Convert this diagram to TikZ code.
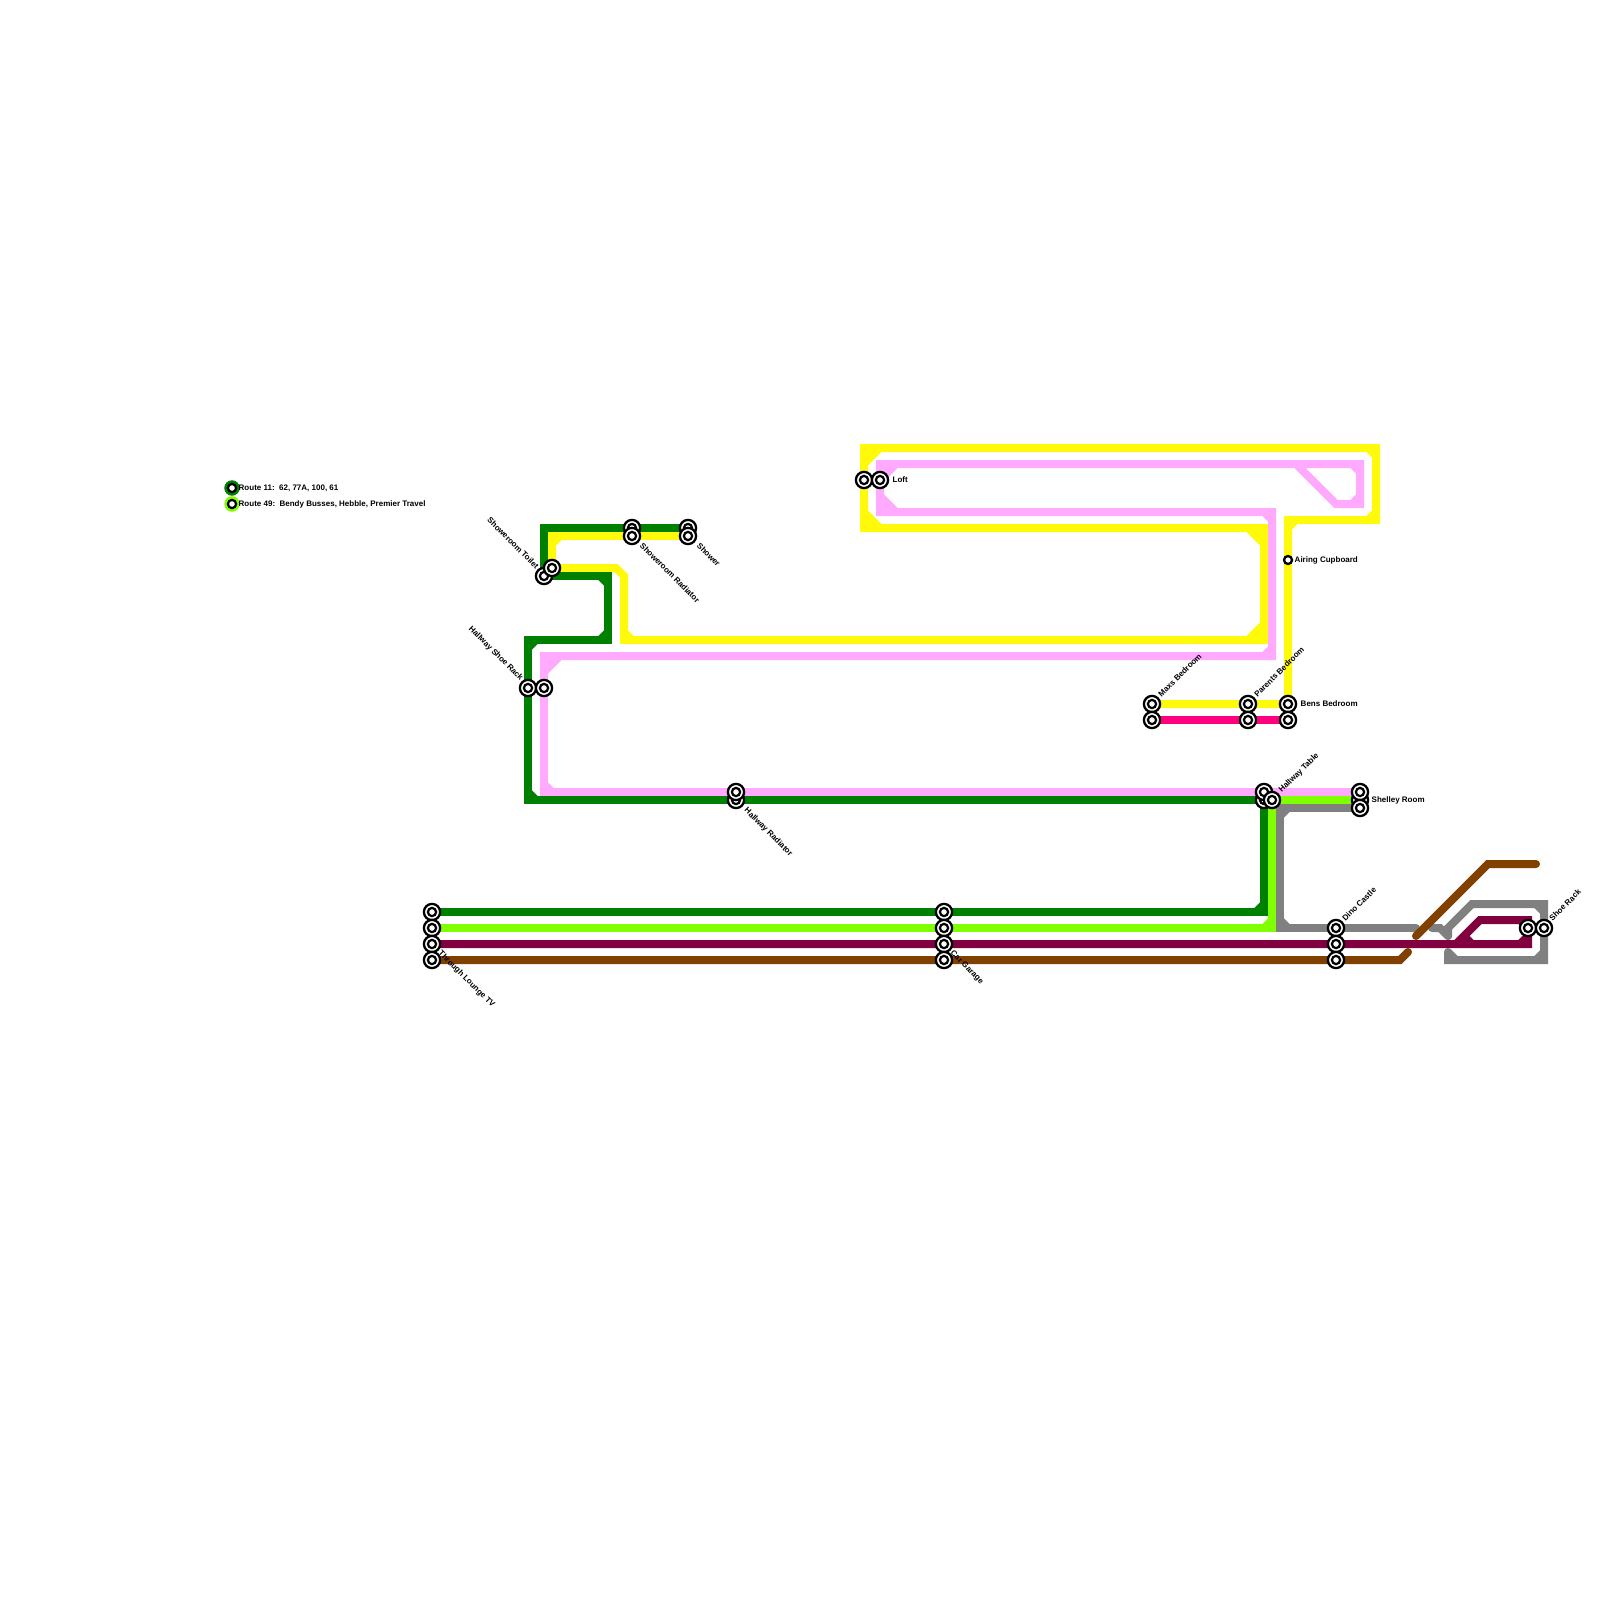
\documentclass[tikz,border=0pt]{standalone}
\usepackage{fontspec}
\setmainfont{Liberation Sans}
\usetikzlibrary{backgrounds}
\definecolor{cGreen}{RGB}{0,128,0}
\definecolor{cLime}{RGB}{128,255,0}
\definecolor{cPink}{RGB}{255,170,255}
\definecolor{cYellow}{RGB}{255,250,10}
\definecolor{cGray}{RGB}{128,128,128}
\definecolor{cHot}{RGB}{255,0,128}
\definecolor{cWine}{RGB}{128,0,64}
\definecolor{cBrown}{RGB}{128,64,0}
\tikzset{
  x=0.01cm,y=-0.01cm,
  inring/.style={path picture={\draw[black,line width=.022cm] (path picture bounding box.center) circle (.041cm);}},
  stn/.style={circle,draw=black,line width=.023cm,fill=white,minimum size=.162cm,inner sep=0pt,inring},
  smallstn/.style={circle,draw=black,line width=.023cm,fill=white,minimum size=.08cm,inner sep=0pt},
  legstn/.style={circle,fill=#1,minimum size=.155cm,inner sep=0pt,path picture={\draw[black,fill=white,line width=.022cm] (path picture bounding box.center) circle (.041cm);}},
  ln/.style={draw=#1,line width=.08cm,line join=miter,line cap=round},
  lbl/.style={font=\fontsize{2.276pt}{2.8pt}\selectfont\bfseries,inner sep=0pt,text=black},
  lblE/.style={lbl,anchor=west},
  lblUp/.style={lbl,anchor=west,rotate=45},
  lblDn/.style={lbl,anchor=west,rotate=-45},
  lblBack/.style={lbl,anchor=east,rotate=-45},
}
\begin{document}
\begin{tikzpicture}
\useasboundingbox (0,0) rectangle (1600,1600);
% legend
\node[legstn=cGreen] (legA) at (232,488) {};
\node[legstn=cLime] (legB) at (232,504) {};
\node[lblE] (legAt) at (238,488) {Route 11:\ \ 62, 77A, 100, 61};
\node[lblE] (legBt) at (238,504) {Route 49:\ \ Bendy Busses, Hebble, Premier Travel};
% stations, back to front
\foreach \n/\x/\y in {tv1/432/912,tv2/432/928,tv3/432/944,tv4/432/960,
  car1/944/912,car2/944/928,car3/944/944,car4/944/960,
  rack/528/688,rackp/544/688,
  toil/544/576,toily/552/568,
  radg/632/528,rady/632/536,showg/688/528,showy/688/536,
  hrg/736/800,hrp/736/792,
  loft/864/480,loftp/880/480,
  maxy/1152/704,maxh/1152/720,pary/1248/704,parh/1248/720,beny/1288/704,benh/1288/720,
  halg/1264/800,halp/1264/792,hall/1272/800,
  shm/1360/800,shp/1360/792,shg/1360/808,
  dino1/1336/928,dino2/1336/944,dino3/1336/960,
  shoew/1528/928,shoeg/1544/928}{
  \node[stn] (\n) at (\x,\y) {};
}
\node[smallstn] (air) at (1288,560) {};
% line drawing under stations
\begin{scope}[on background layer]
\fill[white] (0,0) rectangle (1600,1600);
% yellow
\draw[ln=cYellow] (toily.center) -- (552,536) -- (rady.center) -- (showy.center);
\draw[ln=cYellow,line cap=butt] (552,544) -- (560,536);
\draw[ln=cYellow] (toily.center) -- (616,568) -- (624,576) -- (624,640) -- (1264,640) -- (1264,528) -- (864,528) -- (864,448) -- (1376,448) -- (1376,520) -- (1288,520) -- (air.center) -- (beny.center) -- (pary.center) -- (maxy.center);
\draw[ln=cYellow,line cap=butt] (624,632) -- (632,640);
\fill[cYellow] (1264,640) -- (1248,640) -- (1264,624) -- cycle;
\draw[ln=cYellow,line cap=butt] (1248,640) -- (1264,624);
\fill[cYellow] (1264,528) -- (1248,528) -- (1264,544) -- cycle;
\draw[ln=cYellow,line cap=butt] (1248,528) -- (1264,544);
\fill[cYellow] (864,528) -- (864,512) -- (880,528) -- cycle;
\draw[ln=cYellow,line cap=butt] (864,512) -- (880,528);
\fill[cYellow] (864,448) -- (864,464) -- (880,448) -- cycle;
\draw[ln=cYellow,line cap=butt] (864,464) -- (880,448);
\draw[ln=cYellow,line cap=butt] (1368,448) -- (1376,456);
\draw[ln=cYellow,line cap=butt] (1376,512) -- (1368,520);
\draw[ln=cYellow,line cap=butt] (1288,528) -- (1296,520);
% pink
\draw[ln=cPink] (rackp.center) -- (544,656) -- (1272,656) -- (1272,512) -- (880,512) -- (880,464) -- (1360,464) -- (1360,504) -- (1336,504) -- (1296,464);
\draw[ln=cPink] (rackp.center) -- (544,792) -- (hrp.center) -- (halp.center) -- (shp.center);
\fill[cPink] (544,656) -- (544,672) -- (560,656) -- cycle;
\draw[ln=cPink,line cap=butt] (544,672) -- (560,656);
\draw[ln=cPink,line cap=butt] (1264,656) -- (1272,648);
\draw[ln=cPink,line cap=butt] (1264,512) -- (1272,520);
\fill[cPink] (880,512) -- (880,496) -- (896,512) -- cycle;
\draw[ln=cPink,line cap=butt] (880,496) -- (896,512);
\fill[cPink] (880,464) -- (880,480) -- (896,464) -- cycle;
\draw[ln=cPink,line cap=butt] (880,480) -- (896,464);
\draw[ln=cPink,line cap=butt] (1352,464) -- (1360,472);
\draw[ln=cPink,line cap=butt] (1360,496) -- (1352,504);
\draw[ln=cPink,line cap=butt] (544,784) -- (552,792);
% dark green
\draw[ln=cGreen] (showg.center) -- (radg.center) -- (544,528) -- (toil.center) -- (608,576) -- (608,640) -- (528,640) -- (rack.center) -- (528,800) -- (hrg.center) -- (halg.center) -- (1264,912) -- (car1.center) -- (tv1.center);
\draw[ln=cGreen,line cap=butt] (600,576) -- (608,584);
\draw[ln=cGreen,line cap=butt] (608,632) -- (600,640);
\draw[ln=cGreen,line cap=butt] (528,648) -- (536,640);
\draw[ln=cGreen,line cap=butt] (528,792) -- (536,800);
\draw[ln=cGreen,line cap=butt] (1256,912) -- (1264,904);
% lime
\draw[ln=cLime] (tv2.center) -- (car2.center) -- (1272,928) -- (hall.center) -- (shm.center);
\draw[ln=cLime,line cap=butt] (1264,928) -- (1272,920);
% gray
\draw[ln=cGray] (shg.center) -- (1280,808) -- (1280,928) -- (dino1.center) -- (1416,928);
\draw[ln=cGray,line cap=butt] (1280,816) -- (1288,808);
\draw[ln=cGray,line cap=butt] (1280,920) -- (1288,928);
\draw[ln=cGray] (1432,928) -- (1440,928) -- (1448,936);
\draw[ln=cGray] (1448,936) -- (1448,928) -- (1472,904) -- (1544,904) -- (shoeg.center) -- (1544,960) -- (1448,960) -- (1448,952);
\draw[ln=cGray,line cap=butt] (1536,904) -- (1544,912);
\draw[ln=cGray,line cap=butt] (1544,952) -- (1536,960);
\draw[ln=cGray,line cap=butt] (1448,952) -- (1456,960);
% hot pink
\draw[ln=cHot] (maxh.center) -- (parh.center) -- (benh.center);
% brown
\draw[ln=cBrown] (tv4.center) -- (car4.center) -- (dino3.center) -- (1400,960) -- (1408,952);
\draw[ln=cBrown] (1416,936) -- (1488,864) -- (1536,864);
% wine
\draw[ln=cWine] (tv3.center) -- (car3.center) -- (dino2.center) -- (1528,944) -- (shoew.center) -- (1528,920) -- (1480,920) -- (1456,944);
\draw[ln=cWine,line cap=butt] (1464,936) -- (1472,944);
\draw[ln=cWine,line cap=butt] (1520,944) -- (1528,936);
\draw[ln=cWine,line cap=butt] (1520,920) -- (1528,928);
\end{scope}
% labels
\node[lblE] (tLoft) at (892,480) {Loft};
\node[lblE] (tBens) at (1300,704) {Bens Bedroom};
\node[lblE] (tAir) at (1294,560) {Airing Cupboard};
\node[lblE] (tShel) at (1371,800) {Shelley Room};
\node[lblUp] (tMax) at (1159,696) {Maxs Bedroom};
\node[lblUp] (tPar) at (1255,696) {Parents Bedroom};
\node[lblUp] (tHal) at (1280,792) {Hallway Table};
\node[lblUp] (tDino) at (1343,920) {Dino Castle};
\node[lblUp] (tShoe) at (1550,920) {Shoe Rack};
\node[lblBack] (tToil) at (538,568) {Showeroom Toilet};
\node[lblBack] (tRack) at (522,680) {Hallway Shoe Rack};
\node[lblDn] (tRad) at (641,544) {Showeroom Radiator};
\node[lblDn] (tSho) at (698,544) {Shower};
\node[lblDn] (tHR) at (745,809) {Hallway Radiator};
\node[lblDn] (tTV) at (439,952) {Through Lounge TV};
\node[lblDn] (tCar) at (951,952) {Car Garage};
\end{tikzpicture}
\end{document}
